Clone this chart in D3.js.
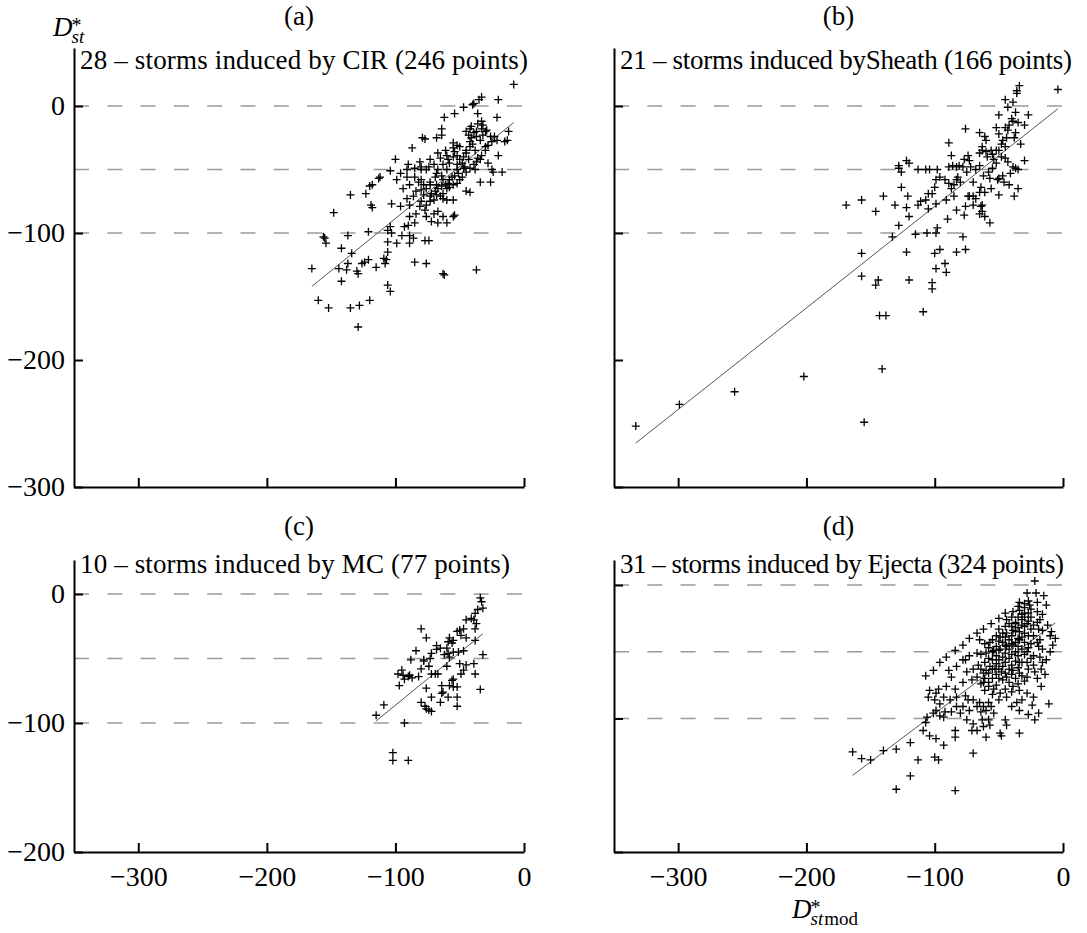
<!DOCTYPE html>
<html><head><meta charset="utf-8">
<script src="https://cdn.jsdelivr.net/npm/d3@7"></script>
<style>body{margin:0;background:#fff}svg{display:block}text{font-family:"Liberation Serif","Times New Roman",Times,serif;fill:#000}</style>
</head><body><svg id="chart" width="1087" height="933"></svg>
<script>
// ---- DATA (x = Dst*mod, y = Dst*) ----
const cirPoints = [
[-8,17],[-33,7],[-35,5],[-39,2],[-40,1],[-47,-1],[-20,5],[-54,-6],[-62,-9],[-36,-6],[-21,-9],[-33,-12],[-32,-15],[-41,-16],[-64,-18],[-64,-23],[-68,-25],[-77,-26],[-79,-25],[-87,-33],[-55,-29],[-52,-31],[-50,-32],[-45,-35],[-42,-32],[-37,-24],[-29,-19],[-26,-24],[-21,-27],[-15,-28],[-12,-20],[-13,-27],[-20,-39],[-30,-32],[-34,-42],[-28,-45],[-25,-50],[-17,-52],[-24,-52],[-34,-60],[-26,-60],[-45,-67],[-42,-68],[-38,-50],[-47,-49],
[-100,-42],[-104,-51],[-96,-53],[-90,-46],[-81,-44],[-73,-42],[-65,-41],[-58,-45],[-60,-50],[-52,-50],[-56,-56],[-68,-53],[-63,-58],[-73,-60],[-78,-62],[-85,-56],[-91,-56],[-99,-58],[-112,-56],[-113,-57],[-118,-62],[-120,-63],[-123,-69],[-135,-70],[-91,-73],[-84,-67],[-80,-66],[-73,-71],[-68,-70],[-63,-69],[-70,-74],[-76,-78],[-81,-79],[-60,-74],[-55,-74],[-103,-77],[-119,-78],[-118,-80],[-148,-84],[-84,-85],[-89,-87],[-76,-87],[-70,-85],[-67,-83],[-67,-92],[-60,-92],[-55,-87],[-54,-86],[-90,-94],[-85,-92],[-93,-95],[-104,-95],[-106,-98],[-103,-100],[-95,-102],[-89,-102],[-86,-104],[-77,-106],[-74,-106],[-89,-108],[-99,-108],[-106,-107],[-121,-99],[-137,-102],[-156,-103],[-155,-104],[-154,-108],[-142,-112],[-134,-116],[-106,-115],[-109,-120],[-107,-121],[-121,-121],[-124,-123],[-126,-124],[-137,-124],[-144,-128],[-165,-128],[-138,-129],[-130,-130],[-129,-132],[-115,-127],[-108,-124],[-85,-123],[-76,-124],[-63,-132],[-62,-133],[-37,-129],[-142,-138],[-106,-141],[-104,-146],[-160,-153],[-152,-159],[-135,-159],[-128,-157],[-120,-153],[-129,-174],
[-45,-20],[-43,-23],[-41,-25],[-39,-21],[-37,-20],[-42,-28],[-40,-30],[-38,-35],[-45,-37],[-47,-40],[-43,-42],[-50,-42],[-52,-39],[-54,-36],[-55,-33],[-48,-45],[-46,-48],[-51,-53],[-54,-55],[-58,-58],[-59,-61],[-61,-62],[-64,-63],[-67,-65],[-69,-67],[-72,-69],[-65,-71],[-63,-73],[-60,-65],[-58,-64],[-55,-62],[-52,-61],[-50,-58],[-48,-56],[-45,-52],[-42,-49],[-39,-46],[-37,-44],[-36,-41],[-33,-39],[-30,-35],[-28,-31],[-25,-28],[-23,-24],[-34,-27],[-32,-23],[-30,-20],[-42,-18],[-33,-18],[-36,-14],[-61,-35],[-60,-39],[-67,-37],[-70,-46],[-76,-50],[-80,-58],[-82,-60],[-76,-65],[-73,-62],[-69,-56],[-67,-50],[-63,-46],[-59,-42],[-55,-40],[-52,-46],[-64,-55],[-68,-62],[-73,-75],[-78,-70],[-86,-71],[-94,-65],[-89,-62],[-96,-79],[-80,-75],[-77,-82],[-72,-91],[-63,-87],[-89,-78],[-91,-50],[-85,-49],[-80,-50],[-74,-48],[-80,-48]
];
const sheathPoints = [
[-34,16],[-36,12],[-36,10],[-4,13],[-45,5],[-39,3],[-43,-1],[-37,-5],[-27,-7],[-50,-7],[-35,-13],[-39,-12],[-42,-15],[-45,-17],[-43,-19],[-52,-17],[-50,-22],[-37,-21],[-76,-18],[-65,-21],[-61,-24],[-60,-27],[-47,-27],[-63,-32],[-63,-35],[-60,-36],[-56,-35],[-52,-35],[-50,-35],[-45,-32],[-65,-37],[-59,-40],[-74,-39],[-77,-42],[-73,-43],[-89,-29],[-87,-39],[-86,-47],[-89,-48],[-83,-48],[-81,-47],[-78,-48],[-72,-48],[-65,-47],[-54,-42],[-45,-41],[-43,-44],[-39,-48],[-37,-49],[-41,-53],[-47,-55],[-50,-57],[-30,-43],[-55,-49],[-57,-57],[-51,-58],[-56,-65],[-64,-64],[-61,-68],[-65,-68],[-70,-71],[-73,-71],[-74,-71],[-68,-73],[-64,-79],[-63,-83],[-65,-85],[-70,-78],[-76,-79],[-77,-86],[-83,-82],[-90,-89],[-85,-71],[-87,-65],[-89,-61],[-83,-58],[-82,-56],[-96,-56],[-99,-58],[-100,-64],[-105,-69],[-102,-69],[-107,-74],[-105,-81],[-99,-77],[-91,-74],[-98,-50],[-104,-50],[-107,-50],[-113,-50],[-120,-45],[-122,-43],[-128,-47],[-128,-49],[-126,-52],[-126,-64],[-121,-71],[-111,-75],[-113,-78],[-120,-87],[-122,-80],[-131,-78],[-140,-71],[-146,-83],[-157,-74],[-169,-78],[-128,-94],[-133,-103],[-115,-101],[-106,-100],[-99,-100],[-98,-96],[-78,-103],[-83,-115],[-76,-113],[-122,-115],[-100,-116],[-96,-113],[-99,-128],[-92,-124],[-91,-131],[-157,-116],[-157,-134],[-144,-137],[-146,-141],[-120,-137],[-102,-139],[-102,-144],[-143,-165],[-138,-165],[-109,-162],[-35,-65],[-38,-71],[-50,-70],[-57,-92],[-61,-87],[-63,-78],
[-333,-252],[-299,-235],[-256,-225],[-202,-213],[-155,-249],[-141,-207],
[-40,-10],[-44,-25],[-48,-30],[-55,-38],[-58,-52],[-62,-55],[-68,-50],[-75,-52],[-80,-60],[-85,-62],[-46,-60],[-42,-62],[-52,-45],[-48,-40],[-35,-50],[-33,-30],[-38,-25],[-30,-15],[-70,-60],[-92,-58]
];
const mcPoints = [
[-34,-3],[-33,-6],[-36,-12],[-32,-11],[-38,-15],[-39,-20],[-45,-20],[-41,-19],[-37,-23],[-38,-27],[-47,-27],[-50,-28],[-52,-29],[-49,-32],[-45,-34],[-38,-36],[-55,-36],[-56,-38],[-58,-34],[-59,-37],[-80,-27],[-76,-34],[-68,-40],[-65,-42],[-60,-42],[-59,-46],[-55,-45],[-51,-45],[-47,-44],[-58,-49],[-62,-47],[-68,-43],[-72,-46],[-73,-50],[-78,-51],[-84,-44],[-88,-51],[-95,-59],[-98,-62],[-94,-63],[-90,-64],[-87,-65],[-93,-66],[-89,-63],[-82,-64],[-80,-58],[-78,-52],[-74,-56],[-72,-62],[-69,-62],[-67,-62],[-60,-56],[-55,-66],[-56,-67],[-58,-71],[-55,-72],[-52,-72],[-64,-71],[-63,-76],[-50,-54],[-45,-55],[-39,-54],[-47,-59],[-49,-62],[-38,-62],[-32,-47],[-34,-74],[-76,-73],[-97,-71],[-72,-80],[-65,-84],[-80,-84],[-77,-87],[-76,-89],[-74,-90],[-72,-91],[-59,-80],[-52,-80],[-52,-87],[-109,-86],[-115,-94],[-93,-100],[-102,-123],[-102,-129],[-90,-129],[-64,-77]
];
const ejectaPoints = [
[-22,3],[-28,-6],[-21,-6],[-34,-13],[-30,-14],[-26,-15],[-13,-15],[-45,-21],[-39,-20],[-34,-19],[-30,-21],[-27,-21],[-18,-26],[-50,-25],[-56,-29],[-62,-33],[-44,-26],[-37,-28],[-32,-26],[-28,-29],[-23,-30],[-19,-33],[-9,-35],[-67,-36],[-73,-40],[-78,-45],[-84,-49],[-91,-54],[-96,-58],[-101,-64],[-107,-68],[-65,-41],[-57,-43],[-49,-39],[-44,-36],[-39,-34],[-34,-35],[-23,-38],[-18,-41],[-10,-38],[-6,-40],[-19,-46],[-13,-56],[-17,-63],[-22,-65],[-28,-69],[-34,-66],[-39,-64],[-44,-69],[-48,-65],[-53,-63],[-57,-61],[-60,-64],[-62,-66],[-66,-60],[-70,-63],[-75,-65],[-78,-56],[-83,-61],[-87,-69],[-89,-64],[-67,-51],[-73,-53],[-76,-56],[-60,-51],[-54,-49],[-49,-48],[-44,-46],[-39,-45],[-34,-41],[-28,-50],[-23,-53],[-18,-54],[-10,-50],[-28,-58],[-34,-58],[-23,-60],[-39,-76],[-34,-79],[-28,-81],[-23,-84],[-32,-86],[-36,-88],[-40,-91],[-44,-84],[-49,-81],[-54,-78],[-58,-76],[-62,-73],[-67,-69],[-71,-71],[-78,-73],[-84,-78],[-91,-76],[-97,-78],[-104,-79],[-99,-81],[-93,-84],[-100,-86],[-105,-84],[-96,-89],[-88,-86],[-83,-84],[-76,-83],[-74,-86],[-70,-86],[-65,-88],[-67,-91],[-62,-91],[-60,-94],[-56,-91],[-73,-94],[-78,-91],[-83,-91],[-87,-95],[-92,-95],[-96,-98],[-99,-94],[-101,-96],[-93,-99],[-80,-96],[-75,-101],[-70,-104],[-63,-101],[-58,-101],[-57,-105],[-62,-106],[-67,-109],[-71,-109],[-60,-114],[-54,-96],[-45,-101],[-44,-105],[-34,-94],[-22,-101],[-11,-89],[-34,-111],[-49,-111],[-48,-113],[-84,-109],[-84,-114],[-93,-120],[-99,-115],[-104,-113],[-109,-109],[-107,-103],[-106,-99],[-119,-118],[-130,-123],[-140,-124],[-150,-131],[-157,-130],[-164,-125],[-113,-131],[-100,-129],[-97,-131],[-70,-126],[-119,-143],[-130,-153],[-84,-154],
[-25,-18],[-25,-24],[-25,-33],[-25,-44],[-25,-55],[-27,-12],[-27,-27],[-27,-38],[-27,-47],[-27,-63],[-30,-17],[-30,-24],[-30,-31],[-30,-36],[-30,-43],[-30,-52],[-30,-72],[-32,-22],[-32,-30],[-32,-39],[-32,-48],[-32,-58],[-32,-68],[-35,-16],[-35,-24],[-35,-32],[-35,-40],[-35,-46],[-35,-53],[-35,-62],[-35,-74],[-37,-29],[-37,-35],[-37,-43],[-37,-50],[-37,-57],[-37,-70],[-40,-24],[-40,-31],[-40,-38],[-40,-44],[-40,-52],[-40,-60],[-40,-67],[-40,-80],[-42,-29],[-42,-41],[-42,-48],[-42,-55],[-42,-63],[-42,-73],[-45,-31],[-45,-39],[-45,-45],[-45,-51],[-45,-58],[-45,-66],[-45,-78],[-47,-36],[-47,-43],[-47,-54],[-47,-61],[-47,-71],[-50,-33],[-50,-42],[-50,-49],[-50,-56],[-50,-63],[-50,-70],[-50,-86],[-52,-38],[-52,-46],[-52,-53],[-52,-59],[-52,-67],[-52,-75],[-55,-41],[-55,-50],[-55,-56],[-55,-63],[-55,-70],[-55,-82],[-58,-47],[-58,-55],[-58,-66],[-58,-73],[-58,-88],[-61,-44],[-61,-58],[-61,-70],[-61,-79],[-64,-52],[-64,-63],[-64,-74],[-64,-95],[-20,-13],[-20,-20],[-20,-28],[-20,-43],[-20,-70],[-16,-22],[-16,-34],[-16,-48],[-16,-58],
[-15,-8],[-12,-30],[-8,-45],[-14,-67],[-17,-76],[-24,-90],[-27,-97],[-19,-96]
];
const panelLabels = ["(a)", "(b)", "(c)", "(d)"];
const panelTitles = [
  "28 \u2013 storms induced by CIR (246 points)",
  "21 \u2013 storms induced bySheath (166 points)",
  "10 \u2013 storms induced by MC (77 points)",
  "31 \u2013 storms induced by Ejecta (324 points)"
];
const fitSlopes = [0.822, 0.80, 0.814, 0.723];
const fitIntercepts = [-6.4, 1, -4.8, -24];
const fitXFrom = [-165, -333, -115, -164];
const fitXTo = [-8, -4, -32, -6];
const xTickValues = [-300, -200, -100, 0];
const yTicksTop = [0, -100, -200, -300];
const yTicksBottom = [0, -100, -200];
const refLevels = [0, -50, -100];

// ---- LAYOUT ----
const FS = 27;
const TICK_FS = 28;
const FONT = "'Liberation Serif','Times New Roman',Times,serif";
const titleSpan = [448, 452, 430, 444];
const panels = [
  {data: cirPoints,    x0: 74,  x1: 524,  yTop: 48,  yZero: 106, yMinVal: -300, yMinPx: 487, yTicks: yTicksTop,    showY: true,  showX: false, row: 0},
  {data: sheathPoints, x0: 614, x1: 1063, yTop: 48,  yZero: 106, yMinVal: -300, yMinPx: 487, yTicks: yTicksTop,    showY: false, showX: false, row: 0},
  {data: mcPoints,     x0: 74,  x1: 524,  yTop: 560, yZero: 594, yMinVal: -200, yMinPx: 852, yTicks: yTicksBottom, showY: true,  showX: true,  row: 1},
  {data: ejectaPoints, x0: 614, x1: 1063, yTop: 560, yZero: 585, yMinVal: -200, yMinPx: 852, yTicks: yTicksBottom, showY: false, showX: true,  row: 1}
];
const labelBaseline = [25, 535];
const titleBaseline = [69, 573];

const svg = d3.select("#chart");
svg.append("rect").attr("width", 1087).attr("height", 933).attr("fill", "#fff");

panels.forEach((p, i) => {
  const x = d3.scaleLinear().domain([-350, 0]).range([p.x0, p.x1]);
  const y0 = d3.scaleLinear().domain([p.yMinVal, 0]).range([p.yMinPx, p.yZero]);
  const topVal = y0.invert(p.yTop);
  const y = d3.scaleLinear().domain([p.yMinVal, topVal]).range([p.yMinPx, p.yTop]);
  const g = svg.append("g");

  g.selectAll(".ref").data(refLevels).join("line")
    .attr("x1", x(-350)).attr("x2", x(0))
    .attr("y1", d => y(d)).attr("y2", d => y(d))
    .attr("stroke", "#9a9a9a").attr("stroke-width", 1.4)
    .attr("stroke-dasharray", "15,18.3");

  g.append("line")
    .attr("x1", x(fitXFrom[i])).attr("y1", y(fitSlopes[i] * fitXFrom[i] + fitIntercepts[i]))
    .attr("x2", x(fitXTo[i])).attr("y2", y(fitSlopes[i] * fitXTo[i] + fitIntercepts[i]))
    .attr("stroke", "#555").attr("stroke-width", 1);

  g.selectAll(".pt").data(p.data).join("path")
    .attr("d", "M-4,0H4M0,-4V4")
    .attr("transform", d => `translate(${x(d[0])},${y(d[1])})`)
    .attr("stroke", "#000").attr("stroke-width", 1.3).attr("fill", "none");

  const ax = g.append("g").attr("transform", `translate(0,${p.yMinPx})`)
    .call(d3.axisBottom(x).tickValues(xTickValues).tickSizeInner(-9).tickSizeOuter(0).tickPadding(14)
      .tickFormat(p.showX ? d3.format("d") : () => ""));
  const ay = g.append("g").attr("transform", `translate(${p.x0},0)`)
    .call(d3.axisLeft(y).tickValues(p.yTicks).tickSizeInner(-9).tickSizeOuter(0).tickPadding(9)
      .tickFormat(p.showY ? d3.format("d") : () => ""));
  [ax, ay].forEach(a => {
    a.attr("font-family", FONT);
    a.selectAll("path,line").attr("stroke", "#000").attr("stroke-width", 2);
    a.selectAll("text").attr("font-size", TICK_FS).attr("fill", "#000");
  });

  g.append("text").attr("x", (p.x0 + p.x1) / 2).attr("y", labelBaseline[p.row])
    .attr("text-anchor", "middle").attr("font-size", FS).text(panelLabels[i]);
  g.append("text").attr("x", p.x0 + 6).attr("y", titleBaseline[p.row])
    .attr("font-size", FS).attr("textLength", titleSpan[i]).attr("lengthAdjust", "spacing")
    .text(panelTitles[i]);
});

// axis titles: D*_st and D*_st mod as single text elements with tspans
const yt = svg.append("text").attr("x", 53).attr("y", 36).attr("font-size", FS);
yt.append("tspan").attr("font-style", "italic").text("D");
yt.append("tspan").attr("font-size", 20).attr("dx", -1).attr("dy", -4).text("*");
yt.append("tspan").attr("font-size", 19).attr("font-style", "italic").attr("dx", -10).attr("dy", 11).text("st");

const xt = svg.append("text").attr("x", 792).attr("y", 918).attr("font-size", FS);
xt.append("tspan").attr("font-style", "italic").text("D");
xt.append("tspan").attr("font-size", 20).attr("dx", -1).attr("dy", -4).text("*");
xt.append("tspan").attr("font-size", 19).attr("font-style", "italic").attr("dx", -10).attr("dy", 11).text("st");
xt.append("tspan").attr("font-size", 19).attr("dx", 1).text("mod");
</script></body></html>
